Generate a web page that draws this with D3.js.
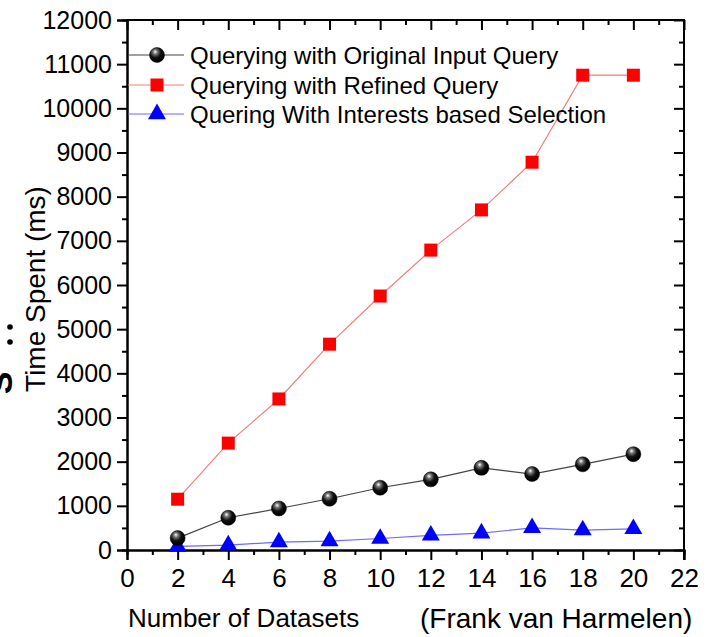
<!DOCTYPE html>
<html><head><meta charset="utf-8">
<script src="https://cdn.jsdelivr.net/npm/d3@7"></script>
<style>body{margin:0;background:#fff}svg{display:block;font-family:"Liberation Sans",Arial,sans-serif}</style>
</head><body><svg id="c" width="706" height="637"></svg>
<script>
const datasets = [2,4,6,8,10,12,14,16,18,20];
const originalQuery = [270,730,940,1160,1410,1600,1860,1720,1940,2170];
const refinedQuery = [1150,2420,3420,4660,5750,6790,7700,8780,10750,10750];
const interestsSelection = [80,110,180,200,260,330,380,500,450,480];
const seriesNames = ["Querying with Original Input Query","Querying with Refined Query","Quering With Interests based Selection"];
const xTicks = d3.range(0,23,2);
const yTicks = d3.range(0,12001,1000);

(function(){
const svg = d3.select("#c");
const L=127,R=684,T=20,B=550;
const x = d3.scaleLinear().domain([0,22]).range([L,R]);
const y = d3.scaleLinear().domain([0,12000]).range([B,T]);

const defs = svg.append("defs");
const g = defs.append("radialGradient").attr("id","ball").attr("cx","40%").attr("cy","35%").attr("r","60%").attr("fx","38%").attr("fy","28%");
g.append("stop").attr("offset","0%").attr("stop-color","#ffffff");
g.append("stop").attr("offset","25%").attr("stop-color","#777");
g.append("stop").attr("offset","60%").attr("stop-color","#111");
g.append("stop").attr("offset","100%").attr("stop-color","#000");

const axL = svg.append("g").attr("transform",`translate(${L},0)`)
  .call(d3.axisLeft(y).tickValues(yTicks).tickSize(10).tickPadding(5).tickFormat(d3.format("d")));
axL.append("g").call(d3.axisLeft(y).tickValues(d3.range(500,12000,1000)).tickSize(5).tickFormat(""));
const axB = svg.append("g").attr("transform",`translate(0,${B})`)
  .call(d3.axisBottom(x).tickValues(xTicks).tickSize(10).tickPadding(9));
axB.append("g").call(d3.axisBottom(x).tickValues(d3.range(1,22,2)).tickSize(5).tickFormat(""));
const axR = svg.append("g").attr("transform",`translate(${R},0)`)
  .call(d3.axisLeft(y).tickValues(yTicks).tickSize(10).tickFormat(""));
axR.append("g").call(d3.axisLeft(y).tickValues(d3.range(500,12000,1000)).tickSize(5).tickFormat(""));
const axT = svg.append("g").attr("transform",`translate(0,${T})`)
  .call(d3.axisBottom(x).tickValues(xTicks).tickSize(10).tickFormat(""));
axT.append("g").call(d3.axisBottom(x).tickValues(d3.range(1,22,2)).tickSize(5).tickFormat(""));
[axL,axB,axR,axT].forEach(a=>{
  a.selectAll("path.domain").attr("stroke","#000").attr("stroke-width",2);
  a.selectAll("line").attr("stroke","#000").attr("stroke-width",2);
  a.selectAll("text").attr("fill","#000").attr("font-family","Liberation Sans, Arial, sans-serif");
});
axL.selectAll("text").attr("font-size",25);
axB.selectAll("text").attr("font-size",26);
axR.selectAll("path.domain").remove();
axT.selectAll("path.domain").remove();
svg.append("line").attr("x1",L-1).attr("x2",R+1).attr("y1",T).attr("y2",T).attr("stroke","#000").attr("stroke-width",2);
svg.append("line").attr("x1",R).attr("x2",R).attr("y1",T).attr("y2",B+10).attr("stroke","#000").attr("stroke-width",2);

const line = d3.line().x((d,i)=>x(datasets[i])).y(d=>y(d));
svg.append("path").datum(originalQuery).attr("d",line).attr("fill","none").attr("stroke","#444").attr("stroke-width",1.2);
svg.append("path").datum(refinedQuery).attr("d",line).attr("fill","none").attr("stroke","#f47c7c").attr("stroke-width",1.2);
svg.append("path").datum(interestsSelection).attr("d",line).attr("fill","none").attr("stroke","#6a6aff").attr("stroke-width",1.2);

const tri = d3.symbol().type(d3.symbolTriangle).size(140);
function ball(sel){ sel.attr("r",7.5).attr("fill","url(#ball)").attr("stroke","#000").attr("stroke-width",0.5); }
svg.append("g").selectAll("path").data(interestsSelection).join("path")
  .attr("d",tri).attr("transform",(d,i)=>`translate(${x(datasets[i])},${y(d)})`).attr("fill","#0000ff");
svg.append("g").selectAll("rect").data(refinedQuery).join("rect")
  .attr("x",(d,i)=>x(datasets[i])-6.5).attr("y",d=>y(d)-6.5).attr("width",13).attr("height",13).attr("fill","#ff0000");
svg.append("g").selectAll("circle").data(originalQuery).join("circle")
  .attr("cx",(d,i)=>x(datasets[i])).attr("cy",d=>y(d)).call(ball);

const legY = [55,85,114];
const legColors = ["#444","#f47c7c","#6a6aff"];
const lg = svg.append("g");
seriesNames.forEach((n,i)=>{
  lg.append("line").attr("x1",L+1).attr("x2",184).attr("y1",legY[i]).attr("y2",legY[i]).attr("stroke",legColors[i]).attr("stroke-width",1.2);
  lg.append("text").attr("x",190).attr("y",legY[i]+8.5).attr("font-size",24).attr("fill","#000").text(n);
});
lg.append("circle").attr("cx",157).attr("cy",legY[0]).call(ball);
lg.append("rect").attr("x",150.5).attr("y",legY[1]-6.5).attr("width",13).attr("height",13).attr("fill","#ff0000");
lg.append("path").attr("d",tri).attr("transform",`translate(157,${legY[2]})`).attr("fill","#0000ff");

svg.append("text").attr("transform","translate(45,289) rotate(-90)").attr("text-anchor","middle").attr("font-size",28).text("Time Spent (ms)");
svg.append("text").attr("x",128).attr("y",627).attr("font-size",26).text("Number of Datasets");
svg.append("text").attr("x",420).attr("y",628).attr("font-size",28).text("(Frank van Harmelen)");

svg.append("text").attr("transform","translate(12,383) rotate(-90)").attr("text-anchor","middle").attr("font-size",34).attr("font-weight","bold").text("S");
svg.append("circle").attr("cx",10).attr("cy",327).attr("r",2.8).attr("fill","#000");
svg.append("circle").attr("cx",10).attr("cy",342).attr("r",2.8).attr("fill","#000");
})();
</script></body></html>
